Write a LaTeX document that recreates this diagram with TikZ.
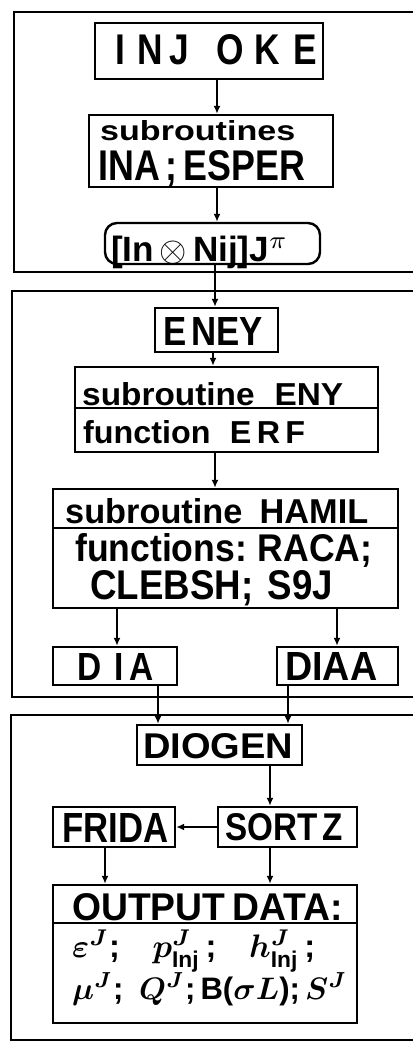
\documentclass[tikz,border=0pt]{standalone}
\usepackage{amsmath}
\usepackage{fontspec}
\setmainfont{Liberation Sans}
\usepackage{graphicx}
\usetikzlibrary{arrows.meta}
\newcommand\fittext[3]{\resizebox{#1pt}{#2pt}{#3}}
\newcommand\fitw[2]{\resizebox{#1pt}{!}{#2}}
\begin{document}
\begin{tikzpicture}[x=1pt,y=-1pt,
  box/.style={draw,line width=2.4pt,inner sep=0pt,minimum width=#1},
  panel/.style={line width=2.6pt},
  txt/.style={inner sep=0pt,anchor=base west,font=\bfseries},
  arr/.style={line width=1.8pt,-{Latex[length=8pt,width=7pt]}}]
\useasboundingbox (0,0) rectangle (413,1043);
% panels
\draw[panel] (413,12) -- (14,12) -- (14,272) -- (413,272);
\draw[panel] (413,291) -- (12,291) -- (12,697) -- (413,697);
\draw[panel] (413,715) -- (11,715) -- (11,1040) -- (413,1040);
% boxes panel 1
\node[box=228pt,minimum height=56pt] (injoke) at (209,51) {};
\node[box=244pt,minimum height=72pt] (subr) at (211,151) {};
\node[box=215pt,minimum height=41pt,rounded corners=12pt] (inj) at (212.5,243.5) {};
% boxes panel 2
\node[box=123pt,minimum height=44pt] (eney) at (216.5,330) {};
\node[box=303pt,minimum height=41pt] (enyA) at (226.5,387.5) {};
\node[box=303pt,minimum height=44pt] (enyB) at (226.5,430) {};
\node[box=345pt,minimum height=39pt] (hamA) at (225.5,508.5) {};
\node[box=345pt,minimum height=80pt] (hamB) at (225.5,568) {};
\node[box=124pt,minimum height=38pt] (dia) at (115,666) {};
\node[box=121pt,minimum height=38pt] (diaa) at (337.5,666) {};
% boxes panel 3
\node[box=165pt,minimum height=40pt] (diogen) at (219.5,745) {};
\node[box=122pt,minimum height=40pt] (frida) at (114,827) {};
\node[box=139pt,minimum height=40pt] (sortz) at (287.5,827) {};
\node[box=304pt,minimum height=38pt] (outA) at (205,904) {};
\node[box=304pt,minimum height=100pt] (outB) at (205,973) {};
% texts
\node[txt] (t1) at (115,65) {\fittext{202}{30}{I\hspace{0.35em}N\hspace{0.2em}J\hspace{0.75em}O\hspace{0.3em}K\hspace{0.4em}E}};
\node[txt] (t2) at (100,141) {\fittext{195}{20}{subroutines}};
\node[txt] (t3) at (98,180) {\fittext{207}{30}{INA\,;\,ESPER}};
\node[txt] (t4) at (111,261) {\fitw{177}{[In\,$\otimes$\,Nij]J$^{\pi}$}};
\node[txt] (t5) at (163,345) {\fittext{100}{28}{E\hspace{0.15em}NEY}};
\node[txt] (t6) at (82,405) {\fittext{261}{23}{subroutine\hspace{0.6em}ENY}};
\node[txt] (t7) at (83,443) {\fittext{222}{23}{function\hspace{0.6em}E\,R\,F}};
\node[txt] (t8) at (65,523) {\fittext{303}{25}{subroutine\hspace{0.5em}HAMIL}};
\node[txt] (t9) at (75,561) {\fittext{297}{28}{functions:\hspace{0.3em}RACA;}};
\node[txt] (t10) at (90,599) {\fittext{243}{29}{CLEBSH;\hspace{0.4em}S9J}};
\node[txt] (t11) at (77,680) {\fittext{76}{27}{D\hspace{0.4em}I\hspace{0.15em}A}};
\node[txt] (t12) at (285,680) {\fittext{92}{28}{DIAA}};
\node[txt] (t13) at (143,758) {\fittext{150}{25}{DIOGEN}};
\node[txt] (t14) at (62,842) {\fittext{106}{29}{FRIDA}};
\node[txt] (t15) at (225,840) {\fittext{118}{27}{SORT\,Z}};
\node[txt] (t16) at (72,920) {\fittext{271}{27}{OUTPUT\hspace{0.2em}DATA:}};
\node[txt] (t17) at (72,957) {\fitw{243}{\boldmath$\varepsilon^{J}$;\quad $p^{J}_{\text{\bfseries Inj}}$\,;\quad $h^{J}_{\text{\bfseries Inj}}$\,;}};
\node[txt] (t18) at (72,999) {\fitw{275}{\boldmath$\mu^{J}$;\enspace $Q^{J}$;\,B($\sigma L$);\,$S^{J}$}};
% arrow columns
\coordinate (xa) at (217,0);
\coordinate (xb) at (215,0);
\coordinate (xc) at (213,0);
\coordinate (xd) at (117,0);
\coordinate (xe) at (337,0);
\coordinate (xf) at (158,0);
\coordinate (xg) at (288,0);
\coordinate (xh) at (270,0);
\coordinate (xi) at (105,0);
% connectors
\draw[arr] (injoke.south -| xa) -- (subr.north -| xa);
\draw[arr] (subr.south -| xa) -- (inj.north -| xa);
\draw[arr] (inj.south -| xb) -- (eney.north -| xb);
\draw[arr] (eney.south -| xc) -- (enyA.north -| xc);
\draw[arr] (enyB.south -| xb) -- (hamA.north -| xb);
\draw[arr] (hamB.south -| xd) -- (dia.north -| xd);
\draw[arr] (hamB.south -| xe) -- (diaa.north -| xe);
\draw[arr] (dia.south -| xf) -- (diogen.north -| xf);
\draw[arr] (diaa.south -| xg) -- (diogen.north -| xg);
\draw[arr] (diogen.south -| xh) -- (sortz.north -| xh);
\draw[arr] (sortz.west) -- (frida.east);
\draw[arr] (frida.south -| xi) -- (outA.north -| xi);
\draw[arr] (sortz.south -| xh) -- (outA.north -| xh);
\end{tikzpicture}
\end{document}
